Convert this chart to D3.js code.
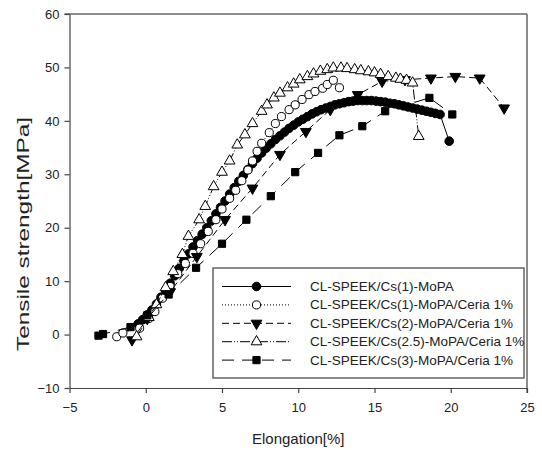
<!DOCTYPE html>
<html>
<head>
<meta charset="utf-8">
<script src="https://cdn.jsdelivr.net/npm/d3@7"></script>
<style>
  body { margin: 0; background: #fff; }
  text { font-family: "Liberation Sans", Arial, sans-serif; fill: #222; }
</style>
</head>
<body>
<div id="chart"></div>
<script>
var width = 542, height = 450;

// series data
var names = ["CL-SPEEK/Cs(1)-MoPA", "CL-SPEEK/Cs(1)-MoPA/Ceria 1%", "CL-SPEEK/Cs(2)-MoPA/Ceria 1%",
    "CL-SPEEK/Cs(2.5)-MoPA/Ceria 1%", "CL-SPEEK/Cs(3)-MoPA/Ceria 1%"];

var s1x = [-0.5, -0.2, 0.1, 0.4, 0.7, 1.0, 1.3, 1.6, 1.9, 2.2, 2.5, 2.8, 3.1, 3.4, 3.7, 4.0, 4.3, 4.6, 4.9, 5.2,
    5.5, 5.8, 6.1, 6.4, 6.7, 7.0, 7.3, 7.6, 7.9, 8.2, 8.5, 8.8, 9.1, 9.4, 9.7, 10.0, 10.3, 10.6, 10.9, 11.2,
    11.5, 11.8, 12.1, 12.4, 12.7, 13.0, 13.3, 13.6, 13.9, 14.2, 14.5, 14.8, 15.1, 15.4, 15.7, 16.0, 16.3, 16.6,
    16.9, 17.2, 17.5, 17.8, 18.1, 18.4, 18.7, 19.0, 19.3, 19.9];
var s1y = [2.0, 2.8, 3.7, 4.6, 5.7, 7.0, 8.3, 9.6, 11.0, 12.4, 13.8, 15.1, 16.4, 17.6, 18.8, 20.0, 21.3, 22.6, 23.8, 25.0,
    26.3, 27.5, 28.7, 29.8, 30.9, 32.0, 33.0, 34.0, 34.9, 35.7, 36.5, 37.2, 37.9, 38.6, 39.2, 39.8, 40.3, 40.8, 41.3, 41.7,
    42.1, 42.4, 42.7, 43.0, 43.2, 43.4, 43.6, 43.7, 43.8, 43.8, 43.8, 43.8, 43.7, 43.6, 43.5, 43.3, 43.2, 43.0,
    42.8, 42.6, 42.4, 42.2, 42.0, 41.8, 41.6, 41.4, 41.2, 36.2];

var s2x = [-1.9, -1.5, -0.4, 0.2, 0.6, 1.1, 1.6, 2.1, 2.6, 3.1, 3.6, 4.1, 4.6, 5.0, 5.5, 5.9, 6.3, 6.7, 7.0, 7.3,
    7.6, 8.1, 8.5, 8.9, 9.4, 9.8, 10.25, 10.7, 11.1, 11.6, 11.9, 12.3, 12.7];
var s2y = [-0.4, 0.3, 1.2, 3.0, 4.3, 6.8, 9.0, 11.4, 13.3, 15.2, 17.0, 19.3, 21.5, 23.5, 25.5, 27.0, 28.8, 30.8, 32.5, 34.3,
    35.8, 37.8, 39.5, 40.8, 42.1, 43.0, 44.0, 44.9, 45.5, 46.1, 46.8, 47.6, 46.2];

var s3x = [-0.9, 0.1, 1.6, 3.35, 5.2, 7.0, 8.8, 10.5, 12.1, 13.9, 15.5, 17.0, 18.7, 20.3, 21.9, 23.5];
var s3y = [-1.0, 3.0, 8.0, 14.6, 21.5, 27.4, 33.7, 38.0, 42.1, 44.9, 47.4, 47.7, 48.0, 48.3, 48.0, 42.4];

var s4x = [-0.6, 0.2, 0.7, 1.3, 1.8, 2.4, 2.8, 3.5, 3.9, 4.45, 5.0, 5.5, 6.0, 6.5, 7.0, 7.6, 7.95, 8.4, 8.8, 9.3,
    9.7, 10.1, 10.6, 11.0, 11.45, 11.9, 12.3, 12.8, 13.2, 13.7, 14.1, 14.6, 15.0, 15.4, 15.9, 16.4, 16.7, 17.1,
    17.5, 17.9];
var s4y = [-0.4, 3.2, 5.6, 8.8, 11.8, 15.0, 18.4, 21.5, 24.0, 27.7, 30.4, 32.5, 35.5, 37.4, 39.5, 41.8, 43.0, 44.3, 45.2, 46.2,
    46.9, 47.7, 48.3, 48.8, 49.3, 49.6, 49.9, 49.9, 49.8, 49.6, 49.4, 49.2, 49.0, 48.7, 48.3, 48.0, 47.8, 47.6,
    47.1, 37.1];

var s5x = [-3.1, -2.8, -1.0, 0.1, 1.5, 3.3, 5.0, 6.6, 8.2, 9.8, 11.3, 12.7, 14.2, 15.7, 18.6, 20.1];
var s5y = [-0.2, 0.1, 1.4, 3.6, 7.5, 12.5, 17.0, 21.5, 25.9, 30.4, 34.0, 37.3, 39.0, 41.8, 44.3, 41.2];

var xTicks = [-5, 0, 5, 10, 15, 20, 25];
var yTicks = [-10, 0, 10, 20, 30, 40, 50, 60];

var seriesX = [s1x, s2x, s3x, s4x, s5x];
var seriesY = [s1y, s2y, s3y, s4y, s5y];
var dashes = ["none", "1,2", "7,4", "10,2,1,2,1,2", "12,8"];
var symbols = [d3.symbolCircle, d3.symbolCircle, d3.symbolTriangle, d3.symbolTriangle, d3.symbolSquare];
var fills = ["#000", "#fff", "#000", "#fff", "#000"];
var flips = [false, false, true, false, false];
var sizes = [58, 52, 50, 50, 52];

var svg = d3.select("#chart").append("svg")
    .attr("width", width)
    .attr("height", height);

var xScale = d3.scaleLinear().domain([-5, 25]).range([69.5, 527]);
var yScale = d3.scaleLinear().domain([-10, 60]).range([388, 14]);

// frame lines top and right
svg.append("line")
    .attr("x1", xScale(-5) - 5).attr("x2", xScale(25))
    .attr("y1", yScale(60)).attr("y2", yScale(60))
    .attr("stroke", "#666").attr("stroke-width", 1.5);
svg.append("line")
    .attr("x1", xScale(25)).attr("x2", xScale(25))
    .attr("y1", yScale(60)).attr("y2", yScale(-10) + 5)
    .attr("stroke", "#666").attr("stroke-width", 1.5);

var xAxis = d3.axisBottom(xScale).tickValues(xTicks).tickSize(5).tickSizeOuter(0).tickFormat(d3.format("d"));
var gx = svg.append("g")
    .attr("transform", "translate(0," + yScale(-10) + ")")
    .call(xAxis);
gx.selectAll("text").attr("font-size", 13).attr("dy", "1.2em");

var yAxis = d3.axisLeft(yScale).tickValues(yTicks).tickSize(5).tickSizeOuter(0).tickFormat(d3.format("d"));
var gy = svg.append("g")
    .attr("transform", "translate(" + xScale(-5) + ",0)")
    .call(yAxis);
gy.selectAll("text").attr("font-size", 13).attr("x", -10);

svg.selectAll(".domain, .tick line").attr("stroke", "#444").attr("stroke-width", 1.2);

svg.append("text")
    .attr("x", (xScale(-5) + xScale(25)) / 2)
    .attr("y", 444)
    .attr("text-anchor", "middle")
    .attr("font-size", 15)
    .text("Elongation[%]");

svg.append("text")
    .attr("transform", "translate(29,234) rotate(-90)")
    .attr("text-anchor", "middle")
    .attr("font-size", 16)
    .attr("textLength", 234)
    .attr("lengthAdjust", "spacingAndGlyphs")
    .text("Tensile strength[MPa]");

var line = d3.line().x(d => xScale(d[0])).y(d => yScale(d[1]));

function markerPath(k) {
    return d3.symbol().type(symbols[k]).size(sizes[k])();
}

for (let k = 0; k < 5; ++k) {
    let pts = seriesX[k].map((v, i) => [v, seriesY[k][i]]);
    let g = svg.append("g");
    g.append("path")
        .datum(pts)
        .attr("d", line)
        .attr("fill", "none")
        .attr("stroke", "#000")
        .attr("stroke-width", 1)
        .attr("stroke-dasharray", dashes[k]);
    g.selectAll("path.m")
        .data(pts)
        .enter()
        .append("path")
        .attr("class", "m")
        .attr("d", markerPath(k))
        .attr("transform", d => "translate(" + xScale(d[0]) + "," + yScale(d[1]) + ")" + (flips[k] ? " rotate(180)" : ""))
        .attr("fill", fills[k])
        .attr("stroke", "#000")
        .attr("stroke-width", 1);
}

// legend
var lg = svg.append("g");
lg.append("rect")
    .attr("x", 213).attr("y", 268)
    .attr("width", 311).attr("height", 110)
    .attr("fill", "#fff")
    .attr("stroke", "#666")
    .attr("stroke-width", 1.5);

for (let k = 0; k < 5; ++k) {
    let yy = 286.5 + k * 18.4;
    lg.append("line")
        .attr("x1", 222).attr("x2", 291)
        .attr("y1", yy).attr("y2", yy)
        .attr("stroke", "#000")
        .attr("stroke-width", 1)
        .attr("stroke-dasharray", dashes[k]);
    lg.append("path")
        .attr("d", markerPath(k))
        .attr("transform", "translate(256.5," + yy + ")" + (flips[k] ? " rotate(180)" : ""))
        .attr("fill", fills[k])
        .attr("stroke", "#000");
    lg.append("text")
        .attr("x", 310)
        .attr("y", yy + 4.5)
        .attr("font-size", 13.5)
        .text(names[k]);
}
</script>
</body>
</html>
